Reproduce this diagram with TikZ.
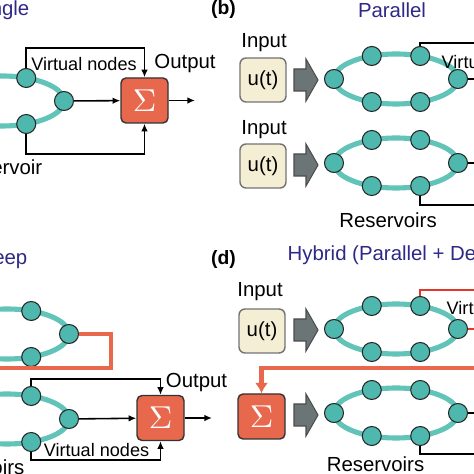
\documentclass[tikz,border=0pt]{standalone}
\usepackage{fontspec}
\setmainfont{Liberation Sans}
\usepackage{xcolor}
\usepackage{tikz}
\usetikzlibrary{arrows.meta}

\definecolor{ringteal}{HTML}{62C3B9}
\definecolor{nodeteal}{HTML}{4FB8AE}
\definecolor{sumorange}{HTML}{E8684D}
\definecolor{fbred}{HTML}{E3372B}
\definecolor{inbeige}{HTML}{F4EED5}
\definecolor{arrowgray}{HTML}{6C7576}
\definecolor{titleblue}{HTML}{2E2886}

\tikzset{
  vnode/.style={circle, draw=black!85, fill=nodeteal, line width=0.3pt, minimum size=0.19cm, inner sep=0pt},
  ring/.style={draw=ringteal, line width=1.45pt},
  sumbox/.style={draw=black!80, fill=sumorange, rounded corners=0.05cm, minimum width=0.47cm, minimum height=0.45cm, inner sep=0pt, text=white, font=\fontsize{9.5}{9.5}\selectfont},
  inbox/.style={draw=black!55, fill=inbeige, rounded corners=0.06cm, minimum width=0.46cm, minimum height=0.44cm, inner sep=0pt, font=\fontsize{5.8}{6.9}\selectfont},
  lbl/.style={inner sep=0pt, font=\fontsize{5.8}{6.9}\selectfont},
  vlbl/.style={inner sep=0pt, font=\fontsize{5.15}{6.2}\selectfont},
  ttl/.style={inner sep=0pt, text=titleblue, font=\fontsize{5.8}{6.9}\selectfont},
  tag/.style={inner sep=0pt, font=\fontsize{5.5}{6.6}\selectfont\bfseries},
  wire/.style={line width=0.45pt},
  tip/.style={-{Latex[length=2.2pt,width=1.9pt]}},
  fbline/.style={draw=sumorange, line width=1.2pt},
  redline/.style={draw=fbred, line width=0.55pt},
  bigarrow/.style={draw=black!70, fill=arrowgray, line width=0.3pt, line join=miter}
}

\begin{document}
\begin{tikzpicture}
  \useasboundingbox (0,0) rectangle (4.74,4.74);
  %
  % (a) single
  \node[ttl, anchor=east] (tA) at (0.30,4.64) {Single};
  \coordinate (rA) at (0.02,3.73);
  \draw[ring] (rA) ellipse (0.62 and 0.25);
  \foreach \a/\i in {0/1,67/2,293/6}
    \node[vnode] (a\i) at ([shift={(\a:0.62 and 0.25)}]rA) {};
  \node[sumbox] (sA) at (1.445,3.735) {$\Sigma$};
  \coordinate (oA) at (1.95,3.735);
  \draw[wire,tip] (a1) -- (sA);
  \draw[wire,tip] (a2.north) -- ++(0,0.20) -| (sA.north);
  \draw[wire,tip] (a6.south) -- ++(0,-0.20) -| (sA.south);
  \draw[wire,tip] (sA) -- (oA);
  \node[vlbl] (vA) at (0.84,4.10) {Virtual nodes};
  \node[lbl] (outA) at (1.85,4.10) {Output};
  \node[lbl, anchor=east] (resA) at (0.43,3.07) {Reservoir};
  %
  % (b) parallel
  \node[tag] (lb) at (2.235,4.64) {(b)};
  \node[ttl] (tB) at (3.92,4.64) {Parallel};
  \node[lbl] (inB1) at (2.64,4.31) {Input};
  \node[inbox] (uB1) at (2.63,3.94) {u(t)};
  \node[lbl] (inB2) at (2.64,3.44) {Input};
  \node[inbox] (uB2) at (2.63,3.08) {u(t)};
  %
  % big input arrows
  \foreach \y in {3.94,3.09,1.44,0.59}
    \draw[bigarrow] (2.94,\y-0.11) -- (3.06,\y-0.11) -- (3.06,\y-0.21) -- (3.18,\y)
      -- (3.06,\y+0.21) -- (3.06,\y+0.11) -- (2.94,\y+0.11) -- cycle;
  %
  % full reservoirs
  \foreach \r/\y in {p/3.95,q/3.11,h/1.45,k/0.61}{
    \draw[ring] (3.96,\y) ellipse (0.62 and 0.25);
    \foreach \a [count=\i] in {0,67,113,180,247,293}
      \node[vnode] (\r\i) at ([shift={(\a:0.62 and 0.25)}]3.96,\y) {};
  }
  \coordinate (eB1) at (4.74,4.31);
  \coordinate (eB2) at (4.74,3.95);
  \coordinate (eB3) at (4.74,3.11);
  \coordinate (eB4) at (4.74,2.69);
  \draw[wire] (p2.north) |- (eB1);
  \draw[wire] (p1) -- (eB2);
  \draw[wire] (q1) -- (eB3);
  \draw[wire] (q6.south) |- (eB4);
  \node[vlbl, anchor=west] (vB) at (4.41,4.12) {Virtual nodes};
  \node[lbl] (resB) at (3.88,2.54) {Reservoirs};
  %
  % (c) deep
  \node[ttl, anchor=east] (tC) at (0.28,2.14) {Deep};
  \coordinate (rC1) at (0.07,1.40);
  \coordinate (rC2) at (0.07,0.55);
  \draw[ring] (rC1) ellipse (0.62 and 0.25);
  \draw[ring] (rC2) ellipse (0.62 and 0.25);
  \foreach \a/\i in {0/1,67/2,293/6}{
    \node[vnode] (m\i) at ([shift={(\a:0.62 and 0.25)}]rC1) {};
    \node[vnode] (n\i) at ([shift={(\a:0.62 and 0.25)}]rC2) {};
  }
  \coordinate (eC1) at (0,1.06);
  \draw[fbline] (m1.east) -- ++(0.32,0) |- (eC1);
  \node[sumbox] (sC) at (1.605,0.56) {$\Sigma$};
  \coordinate (oC) at (2.12,0.56);
  \draw[wire,tip] (n1) -- (sC);
  \draw[wire,tip] (n2.north) -- ++(0,0.07) -| (sC.north);
  \draw[wire,tip] (n6.south) -- ++(0,-0.08) -| (sC.south);
  \draw[wire,tip] (sC) -- (oC);
  \node[lbl] (outC) at (1.965,0.91) {Output};
  \node[vlbl] (vC) at (0.965,0.24) {Virtual nodes};
  \node[lbl, anchor=east] (resC) at (0.25,0.07) {Reservoirs};
  %
  % (d) hybrid
  \node[tag] (ld) at (2.235,2.14) {(d)};
  \node[ttl, anchor=west] (tD) at (2.87,2.19) {Hybrid (Parallel + Deep)};
  \node[lbl] (inD) at (2.60,1.82) {Input};
  \node[inbox] (uD) at (2.62,1.43) {u(t)};
  \node[sumbox] (sD) at (2.615,0.575) {$\Sigma$};
  \coordinate (eD1) at (4.74,1.84);
  \coordinate (eD2) at (4.74,1.45);
  \coordinate (eD3) at (4.74,1.06);
  \coordinate (eD4) at (4.74,0.61);
  \coordinate (eD5) at (4.74,0.20);
  \draw[redline] (h2.north) |- (eD1);
  \draw[redline] (h1) -- (eD2);
  \draw[fbline, -{Latex[length=3pt,width=3.8pt]}] (eD3) -| (sD.north);
  \draw[wire] (k1) -- (eD4);
  \draw[wire] (k6.south) |- (eD5);
  \node[vlbl, anchor=west] (vD) at (4.46,1.66) {Virtual nodes};
  \node[lbl] (resD) at (3.755,0.10) {Reservoirs};
\end{tikzpicture}
\end{document}
